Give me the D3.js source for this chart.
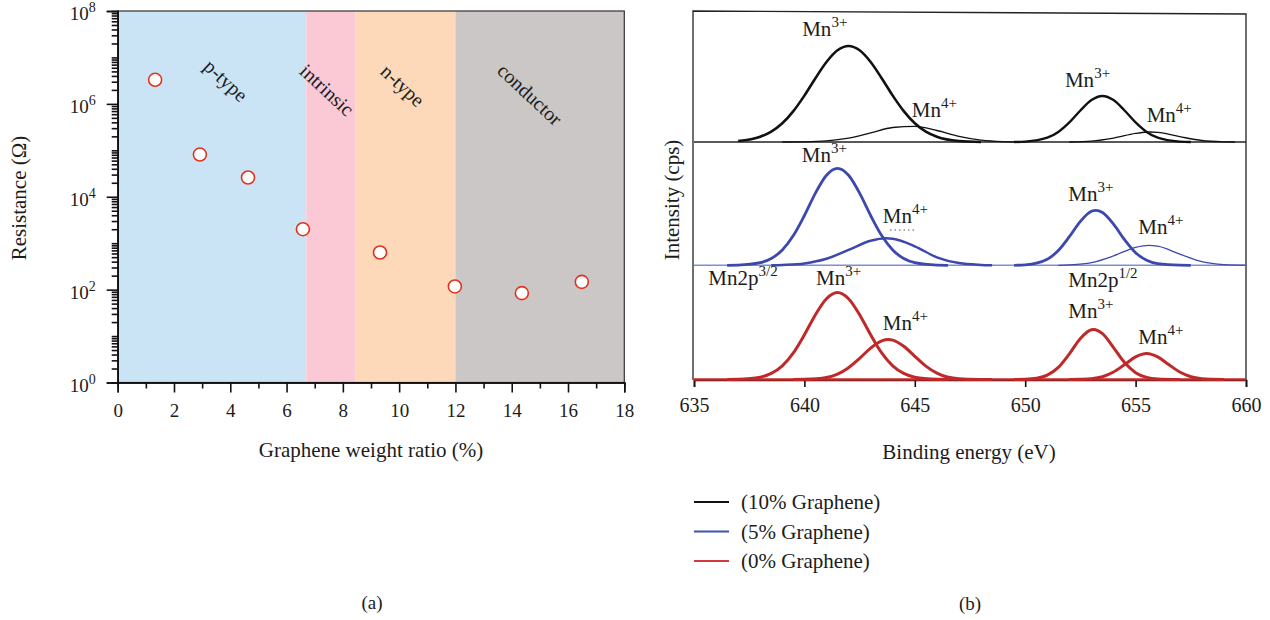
<!DOCTYPE html>
<html>
<head>
<meta charset="utf-8">
<script src="https://cdn.jsdelivr.net/npm/d3@7"></script>
<style>
  body { margin: 0; background: #fff; }
  svg text { font-family: "Liberation Serif", "Times New Roman", serif; fill: #1c1c1c; }
</style>
</head>
<body>
<div id="chart"></div>
<script>
// ---------- panel (a): resistance vs graphene ratio ----------
var ratio = [1.33, 2.92, 4.63, 6.58, 9.32, 11.98, 14.36, 16.49];
var resistance = [3.3e6, 8.1e4, 2.6e4, 2.0e3, 630, 117, 84, 147];

var regionNames = ["p-type", "intrinsic", "n-type", "conductor"];
var regionBounds = [0, 6.7, 8.45, 12.0, 18];
var regionLabelX = [3.85, 7.44, 10.13, 14.65];
var regionLabelY = [3.2e6, 2.0e6, 2.5e6, 1.6e6];

var xTicksA = [0, 2, 4, 6, 8, 10, 12, 14, 16, 18];
var yExponents = [0, 2, 4, 6, 8];

// ---------- panel (b): Mn 2p XPS fits, [binding energy, intensity] ----------
var energyTicks = [635, 640, 645, 650, 655, 660];
var seriesNames = ["(10% Graphene)", "(5% Graphene)", "(0% Graphene)"];

var g10Mn3a = [[637,1.0],[638,5.3],[638.5,10.4],[639,18.7],[639.5,30.9],[640,46.4],[640.5,63.8],[641,80],[641.5,91.7],[642,96],[642.5,91.7],[643,80],[643.5,63.8],[644,46.4],[644.5,30.9],[645,18.7],[645.5,10.4],[646,5.3],[647,1.0],[648,0]];
var g10Mn4a = [[639,0],[640,0.2],[641,1.1],[642,3.9],[643,9.1],[644,14.5],[645,15.7],[646,11.5],[647,5.7],[648,1.9],[649,0.4],[650,0]];
var g10Mn3b = [[649.5,0],[650,0.4],[651,4.3],[651.5,10.1],[652,19.6],[652.5,31.5],[653,41.9],[653.5,46],[654,41.9],[654.5,31.5],[655,19.6],[655.5,10.1],[656,4.3],[657,0.4],[657.5,0]];
var g10Mn4b = [[652,0],[653,0.9],[654,3.9],[655,8.6],[655.65,10],[656,9.6],[657,5.3],[658,1.5],[659,0.2],[659.5,0]];

var g5Mn3a = [[636.5,0],[637,0.2],[638,2.6],[638.5,6.8],[639,15.3],[639.5,29.7],[640,49.8],[640.5,72.2],[641,90.1],[641.5,97],[642,90.1],[642.5,72.2],[643,49.8],[643.5,29.7],[644,15.3],[644.5,6.8],[645,2.6],[646,0.2],[646.5,0]];
var g5Mn4a = [[638.5,0],[639,0.4],[640,1.9],[641,6.5],[642,15.4],[643,24.5],[643.7,27],[644,26.5],[645,19],[646,8],[647,2.2],[648,0.4],[648.5,0]];
var g5Mn3b = [[649.5,0],[650,0.5],[651,6.1],[651.5,14.8],[652,28.6],[652.5,44],[653,54],[653.2,55],[653.5,52.8],[654,41.1],[654.5,25.6],[655,12.6],[655.5,5.0],[656,1.6],[657,0.1],[657.5,0]];
var g5Mn4b = [[651.5,0],[652,0.4],[653,2.7],[654,9.4],[655,18],[655.6,20],[656,19.1],[657,11.2],[658,3.6],[659,0.7],[660,0.1]];

var g0Mn3a = [[636.5,0],[637,0.2],[638,2.3],[638.5,6.1],[639,13.7],[639.5,26.6],[640,44.7],[640.5,64.8],[641,80.8],[641.5,87],[642,80.8],[642.5,64.8],[643,44.7],[643.5,26.6],[644,13.7],[644.5,6.1],[645,2.3],[646,0.2],[646.5,0]];
var g0Mn4a = [[639.5,0],[640,0.2],[641,2.1],[641.5,5.4],[642,11.8],[642.5,21.1],[643,31.4],[643.5,38.7],[643.8,40],[644,39.4],[644.5,33.2],[645,23.2],[645.5,13.4],[646,6.4],[647,0.8],[648,0.1],[648.5,0]];
var g0Mn3b = [[649.5,0],[650,0.2],[650.5,1.2],[651,4.3],[651.5,12.1],[652,25.6],[652.5,41],[653,49.7],[653.1,50],[653.5,45.8],[654,31.9],[654.5,16.9],[655,6.8],[655.5,2.1],[656,0.5],[657,0]];
var g0Mn4b = [[652,0],[652.5,0.2],[653,0.8],[653.5,2.8],[654,7.5],[654.5,14.9],[655,22.6],[655.5,26],[656,22.6],[656.5,14.9],[657,7.5],[657.5,2.8],[658,0.8],[658.5,0.2],[659,0]];

// peak labels: [panel, energy, intensity, superscript]
var peakLabels = [
  [0, 639.9, 106, "3+"], [0, 644.86, 25, "4+"], [0, 651.8, 55, "3+"], [0, 655.5, 20.3, "4+"],
  [1, 639.88, 103.6, "3+"], [1, 643.55, 42, "4+"], [1, 651.95, 64.6, "3+"], [1, 655.12, 31.3, "4+"],
  [2, 640.53, 94.5, "3+"], [2, 643.55, 49.5, "4+"], [2, 651.95, 61.2, "3+"], [2, 655.12, 35.5, "4+"]
];
var orbitLabels = [[635.65, -19.7, "3/2"], [651.95, -21.4, "1/2"]];

// ---------- canvas ----------
var w = 1270, h = 620;
var svg = d3.select("#chart").append("svg")
  .attr("width", w).attr("height", h);

var regionFill = ["#cbe4f5", "#fbc9d6", "#fdd9ba", "#cbc7c7"];

// ===== panel (a) =====
var ax0 = 117.7, ax1 = 624.3, ay0 = 382.5, ay1 = 11;
var xA = d3.scaleLinear().domain([0, 18]).range([ax0, ax1]);
var yA = d3.scaleLog().domain([1, 1e8]).range([ay0, ay1]);

svg.selectAll("rect.region")
  .data(regionNames)
  .enter().append("rect")
  .attr("class", "region")
  .attr("x", (d, i) => xA(regionBounds[i]))
  .attr("y", ay1)
  .attr("width", (d, i) => xA(regionBounds[i + 1]) - xA(regionBounds[i]))
  .attr("height", ay0 - ay1)
  .attr("fill", (d, i) => regionFill[i]);

// frame
svg.append("rect")
  .attr("x", ax0).attr("y", ay1)
  .attr("width", ax1 - ax0).attr("height", ay0 - ay1)
  .attr("fill", "none").attr("stroke", "#333").attr("stroke-width", 1.2);

// x axis
var xMinor = d3.range(1, 18, 2);
svg.append("g")
  .attr("transform", "translate(0," + ay0 + ")")
  .call(d3.axisBottom(xA).tickValues(xTicksA).tickSize(10).tickPadding(11))
  .call(g => g.selectAll("text").style("font-size", "19px").attr("fill", "#1c1c1c"));
svg.append("g")
  .attr("transform", "translate(0," + ay0 + ")")
  .call(d3.axisBottom(xA).tickValues(xMinor).tickSize(6).tickFormat(""));

// y axis: labelled decades, unlabelled odd decades and minor ticks
var yMinor = [];
for (var e = 0; e < 8; e++) {
  for (var m = 2; m <= 10; m++) {
    var v = m * Math.pow(10, e);
    if (m === 10 && (e + 1) % 2 === 0) continue;
    yMinor.push(v);
  }
}
svg.append("g")
  .attr("transform", "translate(" + ax0 + ",0)")
  .call(d3.axisLeft(yA).tickValues(yExponents.map(p => Math.pow(10, p))).tickSize(11).tickFormat(""));
svg.append("g")
  .attr("transform", "translate(" + ax0 + ",0)")
  .call(d3.axisLeft(yA).tickValues(yMinor).tickSize(6).tickFormat(""));
svg.selectAll(".domain").attr("stroke", "#111").attr("stroke-width", 1.4);
svg.selectAll(".tick line").attr("stroke", "#111").attr("stroke-width", 1.6);

var yLab = svg.append("g").selectAll("text")
  .data(yExponents).enter().append("text")
  .attr("x", ax0 - 22)
  .attr("y", d => yA(Math.pow(10, d)) + 9)
  .attr("text-anchor", "end")
  .style("font-size", "19px")
  .text("10");
yLab.append("tspan").attr("dy", -8).style("font-size", "14px").text(d => d);

// region labels
svg.selectAll("text.region")
  .data(regionNames).enter().append("text")
  .attr("class", "region")
  .attr("transform", (d, i) => "translate(" + xA(regionLabelX[i]) + "," + yA(regionLabelY[i]) + ") rotate(43)")
  .attr("text-anchor", "middle")
  .attr("dy", "0.35em")
  .style("font-size", "20px")
  .text(d => d);

// points
svg.selectAll("circle.pt")
  .data(ratio).enter().append("circle")
  .attr("class", "pt")
  .attr("cx", d => xA(d))
  .attr("cy", (d, i) => yA(resistance[i]))
  .attr("r", 6.5)
  .attr("fill", "#fff")
  .attr("stroke", "#e0321f")
  .attr("stroke-width", 1.6);

svg.append("text")
  .attr("x", (ax0 + ax1) / 2).attr("y", 457)
  .attr("text-anchor", "middle").style("font-size", "21px")
  .text("Graphene weight ratio (%)");
svg.append("text")
  .attr("transform", "translate(26,198) rotate(-90)")
  .attr("text-anchor", "middle").style("font-size", "21px")
  .text("Resistance (Ω)");
svg.append("text")
  .attr("x", 372).attr("y", 609)
  .attr("text-anchor", "middle").style("font-size", "19px")
  .text("(a)");

// ===== panel (b) =====
var bx0 = 694, bx1 = 1246, bBottom = 380;
var xB = d3.scaleLinear().domain([635, 660]).range([bx0, bx1]);
var baselines = [142, 265.3, 379.5];
var yB = baselines.map(b => d3.scaleLinear().domain([0, 100]).range([b, b - 100]));
var colors = ["#111111", "#3c48ad", "#c0292a"];
var legendColors = ["#111111", "#3b56a8", "#d2393a"];

// frame (top edge slightly skewed as in the scan)
svg.append("path")
  .attr("d", "M" + (bx0 - 1) + "," + bBottom + "V11L" + bx1 + ",14V" + bBottom)
  .attr("fill", "none").attr("stroke", "#222").attr("stroke-width", 1.3);

// baselines
svg.append("line")
  .attr("x1", bx0).attr("x2", bx1)
  .attr("y1", yB[0](0)).attr("y2", yB[0](0))
  .attr("stroke", "#222").attr("stroke-width", 1.6);
svg.append("line")
  .attr("x1", bx0).attr("x2", bx1)
  .attr("y1", yB[1](0)).attr("y2", yB[1](0))
  .attr("stroke", "#7d8fd6").attr("stroke-width", 1.6);

var xAxisB = svg.append("g")
  .attr("transform", "translate(0," + bBottom + ")")
  .call(d3.axisBottom(xB).tickValues(energyTicks).tickSize(7).tickPadding(11));
xAxisB.selectAll("text").style("font-size", "20px").attr("fill", "#1c1c1c");
xAxisB.select(".domain").attr("stroke", "#111").attr("stroke-width", 1.6);
xAxisB.selectAll(".tick line").attr("stroke", "#111").attr("stroke-width", 1.6);

svg.append("line")
  .attr("x1", bx0).attr("x2", bx1)
  .attr("y1", yB[2](0)).attr("y2", yB[2](0))
  .attr("stroke", colors[2]).attr("stroke-width", 2.4);

var curves = [
  [0, g10Mn3a, 2.6], [0, g10Mn4a, 1.3], [0, g10Mn3b, 2.4], [0, g10Mn4b, 1.3],
  [1, g5Mn3a, 2.8], [1, g5Mn4a, 2.5], [1, g5Mn3b, 2.8], [1, g5Mn4b, 1.3],
  [2, g0Mn3a, 3.0], [2, g0Mn4a, 3.0], [2, g0Mn3b, 3.0], [2, g0Mn4b, 3.0]
];
curves.forEach(function(c) {
  var line = d3.line()
    .x(d => xB(d[0]))
    .y(d => yB[c[0]](d[1]))
    .curve(d3.curveMonotoneX);
  svg.append("path")
    .datum(c[1])
    .attr("d", line)
    .attr("fill", "none")
    .attr("stroke", colors[c[0]])
    .attr("stroke-width", c[2])
    .attr("stroke-linejoin", "round");
});

var pl = svg.selectAll("text.peak")
  .data(peakLabels).enter().append("text")
  .attr("class", "peak")
  .attr("x", d => xB(d[1]))
  .attr("y", d => yB[d[0]](d[2]))
  .style("font-size", "21px")
  .text("Mn");
pl.append("tspan").attr("dy", -9).style("font-size", "15px").text(d => d[3]);

var ol = svg.selectAll("text.orbit")
  .data(orbitLabels).enter().append("text")
  .attr("class", "orbit")
  .attr("x", d => xB(d[0]))
  .attr("y", d => yB[1](d[1]))
  .style("font-size", "21px")
  .text("Mn2p");
ol.append("tspan").attr("dy", -9).style("font-size", "15px").text(d => d[2]);

// small dotted mark under the middle Mn4+ label
svg.append("line")
  .attr("x1", 890).attr("x2", 917).attr("y1", 230).attr("y2", 230)
  .attr("stroke", "#555").attr("stroke-width", 1).attr("stroke-dasharray", "1.5,3");

svg.append("text")
  .attr("x", (bx0 + bx1) / 2 - 1).attr("y", 459)
  .attr("text-anchor", "middle").style("font-size", "21px")
  .text("Binding energy (eV)");
svg.append("text")
  .attr("transform", "translate(679,200) rotate(-90)")
  .attr("text-anchor", "middle").style("font-size", "21px")
  .text("Intensity (cps)");

// legend
var leg = svg.selectAll("g.leg")
  .data(seriesNames).enter().append("g")
  .attr("class", "leg")
  .attr("transform", (d, i) => "translate(694," + (502 + i * 29.5) + ")");
leg.append("line")
  .attr("x1", 0).attr("x2", 35)
  .attr("stroke", (d, i) => legendColors[i]).attr("stroke-width", 2.2);
leg.append("text")
  .attr("x", 47).attr("y", 7)
  .style("font-size", "21px")
  .text(d => d);

svg.append("text")
  .attr("x", 970).attr("y", 610)
  .attr("text-anchor", "middle").style("font-size", "19px")
  .text("(b)");
</script>
</body>
</html>
